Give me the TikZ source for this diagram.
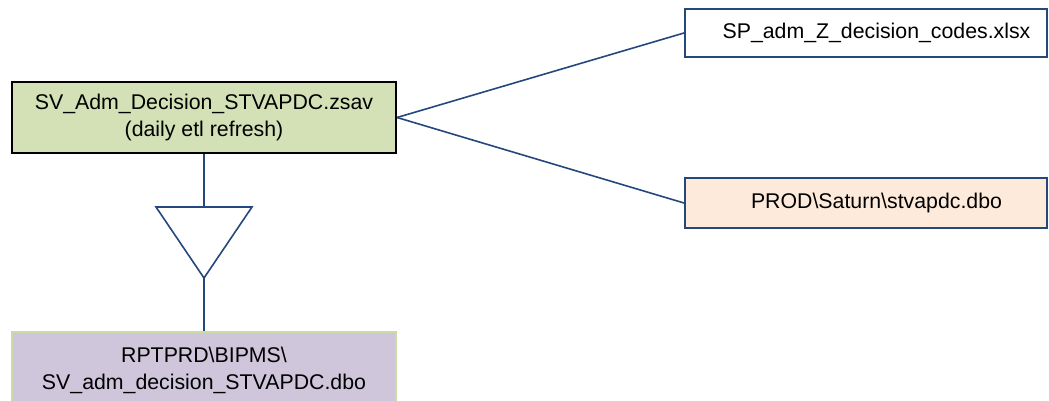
\documentclass[tikz,border=0pt]{standalone}
\usepackage{fontspec}
\setmainfont{Liberation Sans}
\definecolor{lineblue}{HTML}{24487C}
\definecolor{greenfill}{HTML}{D4E0B6}
\definecolor{peach}{HTML}{FDEADA}
\definecolor{lilac}{HTML}{CFC6DC}
\definecolor{lightgreen}{HTML}{C9DCA6}
\tikzset{
  box/.style={rectangle, align=center, inner sep=0pt, font=\fontsize{21.3}{27}\selectfont, text=black},
  rbox/.style={box, draw=lineblue, line width=2pt, minimum width=362pt, inner xsep=0pt},
  conn/.style={draw=lineblue, line width=1.6pt},
}
\begin{document}
\begin{tikzpicture}[x=1pt,y=-1pt]
\useasboundingbox (0,0) rectangle (1049,401);
\node[box, draw=black, line width=2pt, fill=greenfill, minimum width=384pt, minimum height=71pt] (main) at (204,117.5) {SV\_Adm\_Decision\_STVAPDC.zsav\\(daily etl refresh)};
\node[rbox, fill=white, minimum height=48pt] (codes) at (866,33) {\hspace*{21pt}SP\_adm\_Z\_decision\_codes.xlsx};
\node[rbox, fill=peach, minimum height=50pt] (prod) at (866,203) {\hspace*{21pt}PROD\textbackslash Saturn\textbackslash stvapdc.dbo};
\node[box, draw=lightgreen, line width=1.5pt, fill=lilac, minimum width=384pt, minimum height=76pt] (rpt) at (204,370) {RPTPRD\textbackslash BIPMS\textbackslash\\SV\_adm\_decision\_STVAPDC.dbo};
\coordinate (tritop) at (204,207);
\coordinate (apex) at (204,278);
\draw[conn, line join=miter] (156,207) -- (252,207) -- (apex) -- cycle;
\draw[conn] (main.south) -- (tritop);
\draw[conn] (apex) -- (rpt.north);
\draw[conn] (main.east) -- (codes.west);
\draw[conn] (main.east) -- (prod.west);
\end{tikzpicture}
\end{document}
